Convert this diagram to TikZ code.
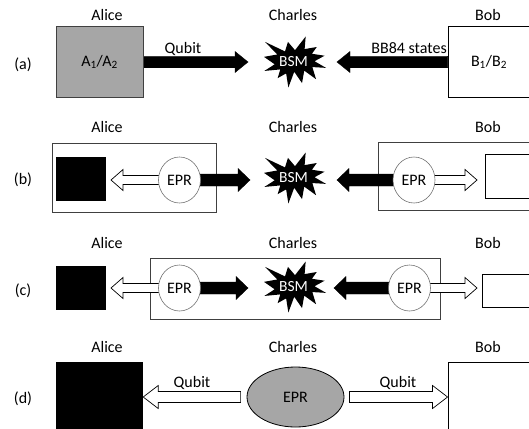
\documentclass[tikz,border=0pt]{standalone}
\usepackage{fontspec}
\setmainfont{Carlito}
\usetikzlibrary{shapes.geometric,calc}
\pgfdeclarelayer{frames}
\pgfdeclarelayer{arrows}
\pgfsetlayers{frames,arrows,main}

\definecolor{boxgray}{RGB}{166,166,166}
\definecolor{linegray}{RGB}{64,64,64}

% horizontal block arrow: #1 style, #2 tail, #3 tip,
% #4 half shaft height, #5 half head height, #6 head length
\newcommand\blockarrow[6]{%
  \path[#1] let \p1=(#2), \p2=(#3), \n1={sign(\x2-\x1)} in
    (\x1,{\y1+#4}) -- ({\x2-\n1*#6},{\y1+#4}) -- ({\x2-\n1*#6},{\y1+#5})
    -- (\x2,\y1) -- ({\x2-\n1*#6},{\y1-#5}) -- ({\x2-\n1*#6},{\y1-#4})
    -- (\x1,{\y1-#4}) -- cycle;}

\tikzset{
  txt/.style={font=\fontsize{16}{19}\selectfont, inner sep=0pt},
  lbl/.style={txt, anchor=base},
  frame/.style={draw=linegray, line width=0.9pt, inner sep=0pt},
  grayblock/.style={draw=linegray, fill=boxgray, line width=0.9pt, txt},
  whiteblock/.style={draw=black, fill=white, line width=0.9pt, txt},
  blackblock/.style={fill=black, inner sep=0pt},
  epr/.style={ellipse, draw=black!55, fill=white, line width=0.6pt, txt,
    minimum width=42pt, minimum height=46pt},
  eprbig/.style={ellipse, draw=black, fill=boxgray, line width=0.8pt, txt,
    minimum width=97pt, minimum height=60pt},
  solidarrow/.style={fill=black, draw=black, line width=0.4pt},
  hollowarrow/.style={fill=white, draw=black, line width=0.7pt},
  bsmtext/.style={text=white, font=\fontsize{15.5}{18}\selectfont, inner sep=0pt},
  explosion/.pic={
    \fill[black] (0,-11.81) -- (10.68,-25.5) -- (9.63,-12.93) -- (21.76,-14.98)
      -- (16.94,-8.23) -- (29.56,-6.29) -- (19.54,-0.77) -- (31,5.88)
      -- (17.33,5.06) -- (21.08,17.22) -- (9.24,8.63) -- (7.02,21.10)
      -- (-0.77,9.76) -- (-6.64,25.5) -- (-8.86,11.40) -- (-17.33,16.10)
      -- (-14.73,7.41) -- (-30.61,8.94) -- (-20.32,2.30) -- (-31,-5.16)
      -- (-17.72,-7.52) -- (-29.94,-20.08) -- (-10.01,-10.58) -- (-7.03,-20.08)
      -- cycle;
    \node[bsmtext] (-t) at (-1.5,-0.5) {BSM};
  }
}

\begin{document}
\begin{tikzpicture}[x=1pt,y=-1pt]
\useasboundingbox (0,0) rectangle (529,428);

% ---------- (a) prepare-and-measure ----------
\node[lbl] (alicea) at (107,21) {Alice};
\node[lbl] (charlesa) at (293,21) {Charles};
\node[lbl] (boba) at (488,21) {Bob};
\node[txt] (taga) at (23,65) {(a)};
\node[grayblock, minimum width=87pt, minimum height=71pt] (aa) at (99.5,62) {A\textsubscript{1}/A\textsubscript{2}};
\node[whiteblock, minimum width=82pt, minimum height=71pt] (ba) at (489,62) {B\textsubscript{1}/B\textsubscript{2}};
\pic (bsma) at (295,62) {explosion};
\coordinate (tipa1) at (248,62);
\coordinate (tipa2) at (337,62);
\begin{pgfonlayer}{arrows}
\blockarrow{solidarrow}{aa.east}{tipa1}{5.75pt}{10.5pt}{13pt}
\blockarrow{solidarrow}{ba.west}{tipa2}{5.75pt}{10.5pt}{13pt}
\end{pgfonlayer}
\node[lbl] (quba) at (183,53) {Qubit};
\node[lbl, anchor=base east] (bb84) at (447,53) {BB84 states};

% ---------- (b) ----------
\node[lbl] (aliceb) at (107,132) {Alice};
\node[lbl] (charlesb) at (293,132) {Charles};
\node[lbl] (bobb) at (488,132) {Bob};
\node[txt] (tagb) at (23,180) {(b)};
\begin{pgfonlayer}{frames}
\node[frame, minimum width=164pt, minimum height=69pt] (fab) at (134,177.5) {};
\node[frame, minimum width=157pt, minimum height=68pt] (fbb) at (456.5,176) {};
\end{pgfonlayer}
\node[blackblock, minimum width=50pt, minimum height=44pt] (ab) at (81,179) {};
\node[whiteblock, minimum width=55pt, minimum height=44pt] (bb) at (512.5,176) {};
\node[epr] (eprb1) at (179.5,180) {EPR};
\node[epr] (eprb2) at (414,180) {EPR};
\pic (bsmb) at (295,178) {explosion};
\coordinate (tipb1) at (111,180);
\coordinate (tipb2) at (250,180);
\coordinate (tipb3) at (337,180);
\coordinate (tipb4) at (477,180);
\begin{pgfonlayer}{arrows}
\blockarrow{hollowarrow}{$(eprb1.west)+(2,0)$}{tipb1}{4.5pt}{10.5pt}{12pt}
\blockarrow{solidarrow}{$(eprb1.east)+(-2,0)$}{tipb2}{6pt}{11.5pt}{12pt}
\blockarrow{solidarrow}{$(eprb2.west)+(2,0)$}{tipb3}{6pt}{11.5pt}{12pt}
\blockarrow{hollowarrow}{$(eprb2.east)+(-2,0)$}{tipb4}{4.5pt}{10.5pt}{12pt}
\end{pgfonlayer}

% ---------- (c) ----------
\node[lbl] (alicec) at (107,248) {Alice};
\node[lbl] (charlesc) at (293,248) {Charles};
\node[lbl] (bobc) at (488,248) {Bob};
\node[txt] (tagc) at (23,291) {(c)};
\begin{pgfonlayer}{frames}
\node[frame, minimum width=290pt, minimum height=61pt] (fc) at (295,288.5) {};
\end{pgfonlayer}
\node[blackblock, minimum width=50pt, minimum height=44pt] (ac) at (81,288) {};
\node[whiteblock, minimum width=58pt, minimum height=33pt] (bc) at (511,290.5) {};
\node[epr] (eprc1) at (179.5,288) {EPR};
\node[epr] (eprc2) at (409.5,288) {EPR};
\pic (bsmc) at (295,287) {explosion};
\coordinate (tipc1) at (111,288);
\coordinate (tipc2) at (248,288);
\coordinate (tipc3) at (334,288);
\coordinate (tipc4) at (477,288);
\begin{pgfonlayer}{arrows}
\blockarrow{hollowarrow}{$(eprc1.west)+(2,0)$}{tipc1}{4.5pt}{10.5pt}{12pt}
\blockarrow{solidarrow}{$(eprc1.east)+(-2,0)$}{tipc2}{6pt}{11.5pt}{12pt}
\blockarrow{solidarrow}{$(eprc2.west)+(2,0)$}{tipc3}{6pt}{11.5pt}{12pt}
\blockarrow{hollowarrow}{$(eprc2.east)+(-2,0)$}{tipc4}{4.5pt}{10.5pt}{12pt}
\end{pgfonlayer}

% ---------- (d) entanglement distribution ----------
\node[lbl] (aliced) at (107,352) {Alice};
\node[lbl] (charlesd) at (293,352) {Charles};
\node[lbl] (bobd) at (488,352) {Bob};
\node[txt] (tagd) at (23,399) {(d)};
\node[blackblock, minimum width=87pt, minimum height=78pt] (ad) at (99.5,401) {};
\node[whiteblock, minimum width=92pt, minimum height=78pt] (bd) at (494,401) {};
\node[eprbig] (eprd) at (295.5,397) {EPR};
\begin{pgfonlayer}{arrows}
\blockarrow{hollowarrow}{$(eprd.west)+(-6,0)$}{ad.east}{5.5pt}{11.5pt}{15pt}
\blockarrow{hollowarrow}{$(eprd.east)+(5,0)$}{bd.west}{5.5pt}{11.5pt}{15pt}
\end{pgfonlayer}
\node[lbl] (qubd1) at (192,387) {Qubit};
\node[lbl] (qubd2) at (398,387) {Qubit};
\end{tikzpicture}
\end{document}
